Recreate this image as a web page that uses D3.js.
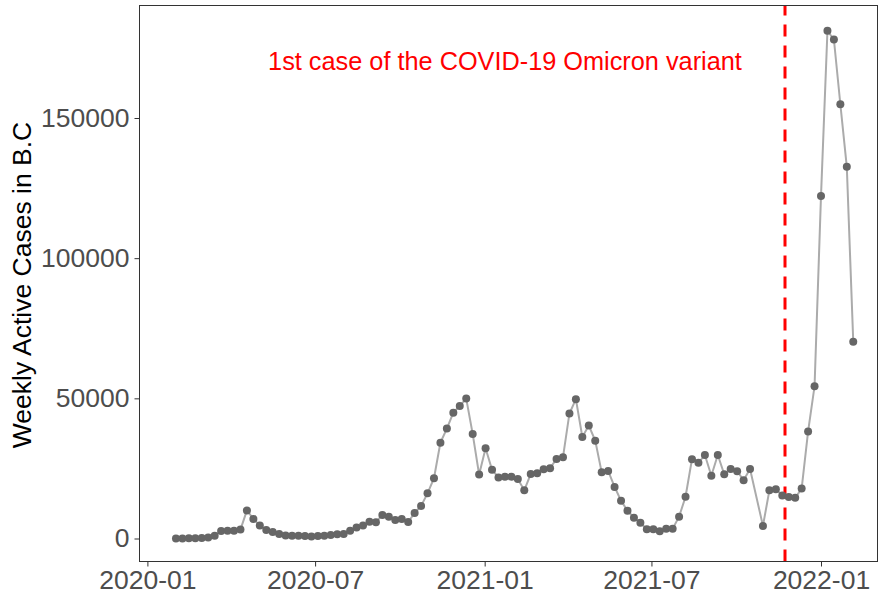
<!DOCTYPE html>
<meta charset="utf-8">
<style>
    body { margin: 0; background: #fff; }
    svg { font-family: "Liberation Sans", Arial, sans-serif; }
</style>
<body>
<script src="https://cdn.jsdelivr.net/npm/d3@7"></script>
<script>

// weekly active cases, starting week 2020-02-01 (null = week with no report)
var startWeek = "2020-02-01";
var cases = [
  0, 0, 50, 100, 150, 400, 1000, 2700, 2800, 2800,
  3200, 10000, 7000, 4600, 3000, 2300, 1600, 1100, 1000, 950,
  900, 700, 850, 1000, 1250, 1500, 1600, 2800, 3900, 4600,
  6000, 5800, 8400, 7800, 6600, 7000, 5900, 9100, 11600, 16100,
  21500, 34200, 39200, 44900, 47300, 49900, 37300, 22800, 32200, 24500,
  21800, 22000, 22000, 21200, 17200, 23000, 23300, 24700, 25100, 28400,
  29000, 44600, 49700, 36200, 40300, 34900, 23600, 24100, 18400, 13500,
  9900, 7400, 5600, 3300, 3300, 2600, 3500, 3500, 7800, 14900,
  28300, 27000, 29800, 22400, 29800, 22900, 24800, 24000, 20800, 24800,
  null, 4500, 17200, 17600, 15300, 14800, 14500, 17800, 38200, 54300,
  122200, 181100, 178000, 154900, 132600, 70200
];
var xTicks = ["2020-01", "2020-07", "2021-01", "2021-07", "2022-01"];
var yTicks = [0, 50000, 100000, 150000];
var omicronDate = "2021-11-23";
var omicronLabel = "1st case of the COVID-19 Omicron variant";
var yTitle = "Weekly Active Cases in B.C";

var width = 879, height = 596;
var panel = {left: 139.5, right: 877.5, top: 5.5, bottom: 561.5};

var parseDay = d3.timeParse("%Y-%m-%d"),
    parseMonth = d3.timeParse("%Y-%m");

var start = parseDay(startWeek);
var data = [];
cases.forEach(function(v, i) {
  if (v !== null) data.push({date: d3.timeDay.offset(start, 7 * i), value: v});
});

var svg = d3.select("body").append("svg")
    .attr("width", width)
    .attr("height", height);

var x = d3.scaleTime()
    .domain([parseMonth("2020-01"), parseMonth("2022-01")])
    .range([147.4, 821]);

var y = d3.scaleLinear()
    .domain([0, 150000])
    .range([538.5, 118]);

// vertical marker
var vx = Math.round(x(parseDay(omicronDate)));
svg.append("line")
    .attr("x1", vx).attr("x2", vx)
    .attr("y1", panel.bottom).attr("y2", panel.top)
    .attr("stroke", "#ff0000")
    .attr("stroke-width", 3)
    .attr("stroke-dasharray", "12,9");

var line = d3.line()
    .x(function(d) { return x(d.date); })
    .y(function(d) { return y(d.value); });

svg.append("path")
    .datum(data)
    .attr("d", line)
    .attr("fill", "none")
    .attr("stroke", "#ababab")
    .attr("stroke-width", 2);

svg.selectAll("circle")
    .data(data)
  .enter().append("circle")
    .attr("cx", function(d) { return x(d.date); })
    .attr("cy", function(d) { return y(d.value); })
    .attr("r", 4)
    .attr("fill", "#666666");

svg.append("text")
    .attr("x", 505)
    .attr("y", 70)
    .attr("text-anchor", "middle")
    .attr("fill", "#ff0000")
    .style("font-size", "25.3px")
    .text(omicronLabel);

// panel border
svg.append("rect")
    .attr("x", panel.left).attr("y", panel.top)
    .attr("width", panel.right - panel.left)
    .attr("height", panel.bottom - panel.top)
    .attr("fill", "none")
    .attr("stroke", "#333333")
    .attr("stroke-width", 1);

// axes
var xAxis = svg.append("g")
    .attr("transform", "translate(0," + panel.bottom + ")")
    .call(d3.axisBottom(x)
      .tickValues(xTicks.map(parseMonth))
      .tickFormat(d3.timeFormat("%Y-%m"))
      .tickSize(5)
      .tickPadding(4));

var yAxis = svg.append("g")
    .attr("transform", "translate(" + panel.left + ",0)")
    .call(d3.axisLeft(y)
      .tickValues(yTicks)
      .tickFormat(d3.format("d"))
      .tickSize(5)
      .tickPadding(5));

[xAxis, yAxis].forEach(function(g) {
  g.select(".domain").remove();
  g.selectAll(".tick line").attr("stroke", "#333333");
  g.selectAll(".tick text")
    .attr("fill", "#4d4d4d")
    .style("font-family", "'Liberation Sans', Arial, sans-serif")
    .style("font-size", "26.5px");
});

svg.append("text")
    .attr("transform", "translate(31,285) rotate(-90)")
    .attr("text-anchor", "middle")
    .attr("fill", "#000")
    .style("font-size", "26.5px")
    .text(yTitle);

</script>
</body>
